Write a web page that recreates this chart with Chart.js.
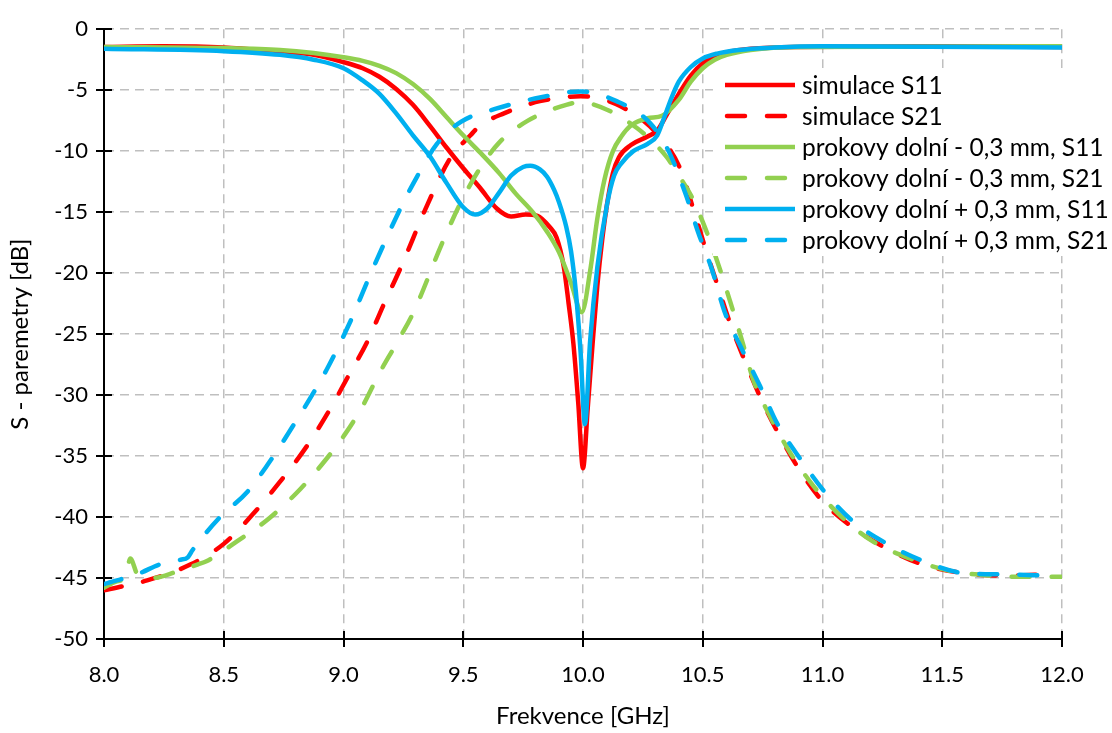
<!DOCTYPE html>
<html>
<head>
<meta charset="utf-8">
<script src="https://cdn.jsdelivr.net/npm/chart.js@4.4.1/dist/chart.umd.min.js"></script>
<style>
  html, body { margin: 0; padding: 0; background: #ffffff; }
  #wrap { width: 1112px; height: 733px; }
</style>
</head>
<body>
<div id="wrap"><canvas id="c" width="1112" height="733"></canvas></div>
<script>
// Frequency axis ticks [GHz] and S-parameter axis ticks [dB]
const xTicks = [8.0, 8.5, 9.0, 9.5, 10.0, 10.5, 11.0, 11.5, 12.0];
const yTicks = [0, -5, -10, -15, -20, -25, -30, -35, -40, -45, -50];

// simulace S11
const simS11Freq = [8.0, 8.25, 8.5, 8.735, 8.875, 9.0, 9.08, 9.15, 9.22, 9.29, 9.36, 9.43, 9.5, 9.57, 9.64, 9.7, 9.76, 9.81, 9.86, 9.89, 9.92, 9.94, 9.96, 9.98, 10.0, 10.02, 10.04, 10.06, 10.08, 10.1, 10.125, 10.15, 10.2, 10.27, 10.31, 10.35, 10.4, 10.45, 10.5, 10.55, 10.6, 10.7, 10.9, 11.5, 12.0];
const simS11 = [-1.45, -1.4, -1.5, -1.86, -2.1, -2.7, -3.2, -3.9, -4.9, -6.2, -7.9, -9.7, -11.4, -13.0, -14.7, -15.35, -15.2, -15.3, -16.2, -17.1, -19.5, -22.5, -25.8, -30.6, -36.0, -31.0, -25.8, -21.0, -17.3, -14.4, -11.8, -10.5, -9.5, -8.8, -8.3, -7.0, -5.3, -3.8, -2.8, -2.2, -1.9, -1.6, -1.45, -1.4, -1.45];

// simulace S21
const simS21Freq = [8.0, 8.18, 8.36, 8.5, 8.62, 8.735, 8.85, 8.96, 9.01, 9.1, 9.165, 9.24, 9.35, 9.445, 9.53, 9.57, 9.67, 9.82, 9.99, 10.155, 10.32, 10.405, 10.46, 10.51, 10.56, 10.614, 10.68, 10.75, 10.82, 10.906, 11.0, 11.13, 11.27, 11.42, 11.59, 11.755, 11.95];
const simS21 = [-46.0, -45.2, -43.9, -42.2, -39.8, -37.1, -34.1, -30.6, -28.8, -25.6, -22.7, -19.5, -14.4, -10.6, -8.7, -7.9, -6.9, -5.9, -5.5, -6.3, -8.8, -11.4, -14.7, -17.9, -20.9, -24.1, -27.4, -30.6, -33.3, -36.2, -38.7, -40.9, -42.6, -43.9, -44.6, -44.8, -44.7];

// prokovy dolní - 0,3 mm, S11
const minusS11Freq = [8.0, 8.5, 8.735, 8.875, 9.0, 9.08, 9.15, 9.22, 9.29, 9.36, 9.43, 9.5, 9.57, 9.65, 9.72, 9.79, 9.85, 9.9, 9.95, 9.995, 10.03, 10.06, 10.09, 10.125, 10.16, 10.2, 10.27, 10.33, 10.4, 10.45, 10.5, 10.55, 10.6, 10.7, 10.9, 12.0];
const minusS11 = [-1.45, -1.55, -1.7, -1.95, -2.3, -2.6, -3.0, -3.6, -4.5, -5.7, -7.2, -8.7, -10.1, -11.8, -13.5, -15.0, -16.6, -18.3, -20.8, -23.2, -19.8, -15.5, -12.3, -10.0, -8.8, -7.9, -7.3, -7.1, -5.8, -4.3, -3.2, -2.5, -2.1, -1.7, -1.45, -1.4];

// prokovy dolní - 0,3 mm, S21
const minusS21Freq = [8.0, 8.05, 8.09, 8.11, 8.14, 8.2, 8.3, 8.39, 8.43, 8.555, 8.69, 8.82, 8.93, 9.01, 9.08, 9.15, 9.22, 9.29, 9.415, 9.49, 9.57, 9.65, 9.77, 9.93, 9.99, 10.1, 10.225, 10.3, 10.35, 10.4, 10.45, 10.5, 10.56, 10.614, 10.668, 10.71, 10.78, 10.864, 10.96, 11.07, 11.21, 11.365, 11.53, 11.7, 11.85, 12.0];
const minusS21 = [-45.8, -45.3, -44.9, -43.4, -44.7, -45.0, -44.5, -43.9, -43.6, -42.0, -40.1, -37.7, -35.2, -33.1, -30.9, -28.2, -25.8, -23.3, -17.4, -14.2, -11.4, -9.3, -7.5, -6.2, -6.0, -6.6, -8.1, -9.4, -10.5, -12.0, -13.6, -15.8, -19.0, -22.3, -25.8, -28.7, -31.7, -34.7, -37.4, -39.8, -42.0, -43.4, -44.4, -44.8, -44.9, -44.9];

// prokovy dolní + 0,3 mm, S11
const plusS11Freq = [8.0, 8.5, 8.735, 8.875, 9.0, 9.08, 9.15, 9.22, 9.29, 9.36, 9.43, 9.5, 9.55, 9.6, 9.65, 9.7, 9.75, 9.78, 9.82, 9.85, 9.88, 9.9, 9.93, 9.95, 9.97, 9.99, 10.008, 10.03, 10.06, 10.1, 10.13, 10.16, 10.21, 10.27, 10.31, 10.34, 10.37, 10.4, 10.45, 10.5, 10.56, 10.65, 10.8, 11.0, 12.0];
const plusS11 = [-1.6, -1.8, -2.1, -2.5, -3.2, -4.2, -5.3, -6.9, -8.7, -10.4, -12.6, -14.6, -15.2, -14.7, -13.4, -12.0, -11.3, -11.2, -11.5, -12.1, -13.2, -14.2, -16.2, -18.2, -21.5, -26.5, -32.4, -25.5, -19.5, -14.4, -12.0, -11.0, -10.0, -9.4, -8.7, -7.2, -5.6, -4.3, -3.1, -2.4, -2.0, -1.7, -1.5, -1.4, -1.5];

// prokovy dolní + 0,3 mm, S21
const plusS21Freq = [8.0, 8.15, 8.23, 8.32, 8.35, 8.37, 8.48, 8.6, 8.68, 8.79, 8.93, 9.03, 9.11, 9.24, 9.29, 9.39, 9.49, 9.64, 9.82, 9.99, 10.14, 10.28, 10.36, 10.43, 10.48, 10.54, 10.59, 10.655, 10.74, 10.81, 10.906, 11.02, 11.13, 11.27, 11.42, 11.59, 11.75, 11.95];
const plusS21 = [-45.5, -44.6, -43.9, -43.5, -43.3, -42.7, -40.1, -37.9, -35.8, -32.5, -27.9, -23.9, -20.2, -14.6, -12.7, -9.4, -7.6, -6.5, -5.6, -5.1, -5.9, -7.7, -10.1, -13.6, -16.6, -19.8, -23.1, -25.9, -29.3, -32.3, -35.2, -38.2, -40.4, -42.2, -43.6, -44.6, -44.7, -44.8];

const seriesLabels = [
  'simulace S11',
  'simulace S21',
  'prokovy dolní - 0,3 mm, S11',
  'prokovy dolní - 0,3 mm, S21',
  'prokovy dolní + 0,3 mm, S11',
  'prokovy dolní + 0,3 mm, S21'
];

const RED = '#FF0000', GREEN = '#92D050', BLUE = '#00B0F0';
const FONT = 'Lato, "Open Sans", sans-serif';
const DASH = [18, 22];
const LW = 4.5;

function pairs(xs, ys) { return xs.map((x, i) => ({ x: x, y: ys[i] })); }

function series(label, xs, ys, color, dashed, order) {
  return {
    label: label,
    data: pairs(xs, ys),
    borderColor: color,
    backgroundColor: color,
    borderWidth: LW,
    borderDash: dashed ? DASH : [],
    borderCapStyle: dashed ? 'round' : 'butt',
    borderJoinStyle: 'round',
    pointRadius: 0,
    pointHoverRadius: 0,
    fill: false,
    cubicInterpolationMode: 'monotone',
    order: order
  };
}

// Crossing tick marks on both axes
const crossTicks = {
  id: 'crossTicks',
  afterDraw(chart) {
    const { ctx, scales: { x, y }, chartArea } = chart;
    ctx.save();
    ctx.strokeStyle = '#000';
    ctx.lineWidth = 2;
    ctx.beginPath();
    yTicks.forEach(v => {
      const py = Math.round(y.getPixelForValue(v));
      ctx.moveTo(chartArea.left - 8, py);
      ctx.lineTo(chartArea.left + 8, py);
    });
    xTicks.forEach(v => {
      const px = Math.round(x.getPixelForValue(v));
      ctx.moveTo(px, chartArea.bottom - 8);
      ctx.lineTo(px, chartArea.bottom + 8);
    });
    ctx.stroke();
    ctx.restore();
  }
};

// Legend box in the upper right of the plot
const lineLegend = {
  id: 'lineLegend',
  afterDatasetsDraw(chart) {
    const { ctx } = chart;
    const left = 713, top = 68, right = 1112, bottom = 256;
    const rowY = [85, 116, 147, 178, 209, 240];
    ctx.save();
    ctx.fillStyle = '#ffffff';
    ctx.fillRect(left, top, right - left, bottom - top);
    chart.data.datasets.forEach((ds, i) => {
      const yy = rowY[i];
      ctx.beginPath();
      ctx.strokeStyle = ds.borderColor;
      ctx.lineWidth = LW;
      ctx.lineCap = ds.borderDash.length ? 'round' : 'butt';
      ctx.setLineDash(ds.borderDash);
      ctx.moveTo(ds.borderDash.length ? 727 : 725, yy);
      ctx.lineTo(795, yy);
      ctx.stroke();
      ctx.setLineDash([]);
      ctx.fillStyle = '#000';
      ctx.font = '24.5px ' + FONT;
      ctx.textAlign = 'left';
      ctx.textBaseline = 'middle';
      ctx.fillText(ds.label, 802, yy + 1);
    });
    ctx.restore();
  }
};

new Chart(document.getElementById('c'), {
  type: 'line',
  data: {
    datasets: [
      series(seriesLabels[0], simS11Freq, simS11, RED, false, 5),
      series(seriesLabels[1], simS21Freq, simS21, RED, true, 4),
      series(seriesLabels[2], minusS11Freq, minusS11, GREEN, false, 3),
      series(seriesLabels[3], minusS21Freq, minusS21, GREEN, true, 2),
      series(seriesLabels[4], plusS11Freq, plusS11, BLUE, false, 1),
      series(seriesLabels[5], plusS21Freq, plusS21, BLUE, true, 0)
    ]
  },
  options: {
    responsive: false,
    animation: false,
    devicePixelRatio: 1,
    layout: { padding: { left: 0, right: 50, top: 22, bottom: 0 } },
    plugins: {
      legend: { display: false },
      tooltip: { enabled: false }
    },
    scales: {
      x: {
        type: 'linear',
        min: 8,
        max: 12,
        afterBuildTicks(scale) { scale.ticks = xTicks.map(v => ({ value: v })); },
        afterFit(scale) { scale.height = 94; },
        ticks: {
          color: '#000',
          font: { family: FONT, size: 22 },
          padding: 23,
          maxRotation: 0,
          callback: v => Number(v).toFixed(1)
        },
        grid: { color: '#BFBFBF', lineWidth: 1.5, drawTicks: false },
        border: { display: true, color: '#000', width: 2, dash: [9, 6] },
        title: {
          display: true,
          text: 'Frekvence [GHz]',
          color: '#000',
          font: { family: FONT, size: 24 },
          padding: { top: 0, bottom: 2 }
        }
      },
      y: {
        type: 'linear',
        min: -50,
        max: 0,
        afterBuildTicks(scale) { scale.ticks = yTicks.slice().reverse().map(v => ({ value: v })); },
        afterFit(scale) { scale.width = 104; },
        ticks: {
          color: '#000',
          font: { family: FONT, size: 22 },
          padding: 16,
          callback: v => String(v)
        },
        grid: { color: '#BFBFBF', lineWidth: 1.5, drawTicks: false },
        border: { display: true, color: '#000', width: 2, dash: [9, 6] },
        title: {
          display: true,
          text: 'S - paremetry [dB]',
          color: '#000',
          font: { family: FONT, size: 24 },
          padding: { top: 6, bottom: 0 }
        }
      }
    }
  },
  plugins: [crossTicks, lineLegend]
});
</script>
</body>
</html>
